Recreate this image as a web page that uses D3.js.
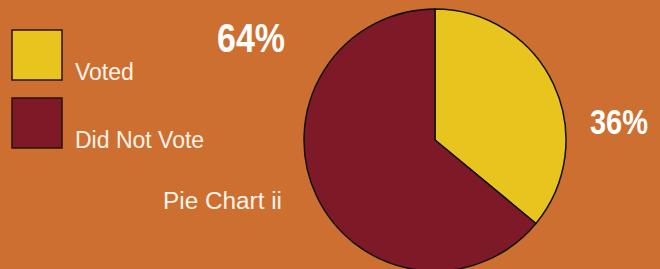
<!DOCTYPE html>
<html>
<head>
<meta charset="utf-8">
<script src="https://cdn.jsdelivr.net/npm/d3@7"></script>
<style>
  html, body { margin: 0; padding: 0; background: #cd6f30; }
  svg { display: block; }
  text { font-family: "Liberation Sans", Arial, sans-serif; fill: #fdf3ea; }
</style>
</head>
<body>
<div id="chart"></div>
<script>
// data
const categories = [`Voted`, `Did Not Vote`];
const values = [36, 64];
const colors = [`#e8c41f`, `#7e1a28`];
const valueLabels = [`36%`, `64%`];
const title = `Pie Chart ii`;

const width = 660;
const height = 269;

const svg = d3.select(`#chart`)
  .append(`svg`)
    .attr(`width`, width)
    .attr(`height`, height);

svg.append(`rect`)
  .attr(`width`, width)
  .attr(`height`, height)
  .attr(`fill`, `#cd6f30`);

// pie
const cx = 435;
const cy = 140;
const radius = 131;

const pie = d3.pie().sort(null).value(d => d.value);
const arc = d3.arc().innerRadius(0).outerRadius(radius);
const rows = categories.map((c, i) => ({name: c, value: values[i], color: colors[i], label: valueLabels[i]}));

const g = svg.append(`g`)
  .attr(`transform`, `translate(${cx},${cy})`);

g.selectAll(`path`)
  .data(pie(rows))
  .enter().append(`path`)
    .attr(`d`, arc)
    .attr(`fill`, d => d.data.color)
    .attr(`stroke`, `#111`)
    .attr(`stroke-width`, 1.5)
    .attr(`stroke-linejoin`, `round`);

// percentage labels (anchored at their right edge)
const labelPos = [{x: 648, y: 134, w: 58, s: 35}, {x: 285, y: 52, w: 68, s: 40}];
svg.selectAll(`.pct`)
  .data(rows)
  .enter().append(`text`)
    .attr(`class`, `pct`)
    .attr(`x`, (d, i) => labelPos[i].x)
    .attr(`y`, (d, i) => labelPos[i].y)
    .attr(`text-anchor`, `end`)
    .attr(`textLength`, (d, i) => labelPos[i].w)
    .attr(`lengthAdjust`, `spacingAndGlyphs`)
    .style(`font-size`, (d, i) => `${labelPos[i].s}px`)
    .style(`font-weight`, `bold`)
    .style(`fill`, `#ffffff`)
    .text(d => d.label);

// legend
const legendY = d3.scalePoint()
  .domain(categories)
  .range([30, 98]);

const legend = svg.selectAll(`.legend`)
  .data(rows)
  .enter().append(`g`)
    .attr(`class`, `legend`)
    .attr(`transform`, d => `translate(12,${legendY(d.name)})`);

legend.append(`rect`)
  .attr(`width`, 50)
  .attr(`height`, 50)
  .attr(`fill`, d => d.color)
  .attr(`stroke`, `#2a1208`)
  .attr(`stroke-width`, 1.5);

legend.append(`text`)
  .attr(`x`, 63)
  .attr(`y`, 50)
  .style(`font-size`, `23px`)
  .text(d => d.name);

svg.append(`text`)
  .attr(`x`, 163)
  .attr(`y`, 209)
  .attr(`textLength`, 119)
  .attr(`lengthAdjust`, `spacingAndGlyphs`)
  .style(`font-size`, `23px`)
  .text(title);
</script>
</body>
</html>
